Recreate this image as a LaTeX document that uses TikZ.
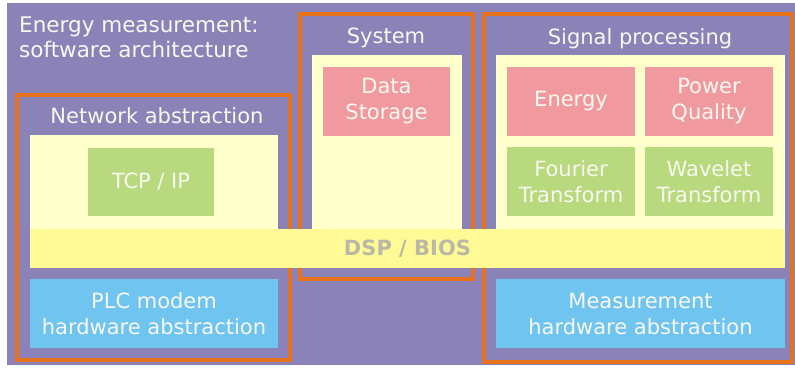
\documentclass[tikz,border=0pt]{standalone}
\usepackage{fontspec}
\setmainfont{DejaVu Sans}
\usetikzlibrary{positioning}
\definecolor{bgpurple}{RGB}{139,131,184}
\definecolor{frameorange}{RGB}{230,114,30}
\definecolor{paneyellow}{RGB}{255,255,204}
\definecolor{bandyellow}{RGB}{255,250,150}
\definecolor{blockpink}{RGB}{240,154,160}
\definecolor{blockgreen}{RGB}{185,217,126}
\definecolor{blockblue}{RGB}{112,196,240}
\definecolor{labelwhite}{RGB}{248,248,240}
\definecolor{biosgrey}{RGB}{185,185,165}
\tikzset{
	box/.style={rectangle, inner sep=0pt, outer sep=0pt, anchor=north west},
	frame/.style={box, draw=frameorange, line width=4pt},
	pane/.style={box, fill=paneyellow},
	block/.style={box, text=labelwhite, align=center, font=\fontsize{21}{26}\selectfont},
	heading/.style={inner sep=0pt, text=labelwhite, font=\fontsize{21}{25}\selectfont},
}

\begin{document}
\begin{tikzpicture}[x=1pt,y=-1pt]
	\fill[white] (0,0) rectangle (795,368);
	\useasboundingbox (0,0) rectangle (795,368);
	\node [box, fill=bgpurple, minimum width=788pt, minimum height=362pt] (bg) at (7,3) {};
	\node [heading, anchor=north west, align=left, font=\fontsize{21.5}{25}\selectfont] (title) at (19,17) {Energy measurement:\\software architecture};
	
	\node [frame, minimum width=273pt, minimum height=265pt] (net) at (17,95) {};
	\node [frame, minimum width=173pt, minimum height=265pt] (sys) at (300,14) {};
	\node [frame, minimum width=308pt, minimum height=348pt] (sig) at (484,14) {};
	\node [heading, anchor=base] (netT) at (157,123) {Network abstraction};
	\node [heading, anchor=base] (sysT) at (386,43) {System};
	\node [heading, anchor=base] (sigT) at (640,44) {Signal processing};
	
	\node [pane, minimum width=248pt, minimum height=95pt] (netP) at (30,135) {};
	\node [pane, minimum width=150pt, minimum height=175pt] (sysP) at (312,55) {};
	\node [pane, minimum width=289pt, minimum height=175pt] (sigP) at (496,55) {};
	
	\node [block, fill=blockgreen, minimum width=126pt, minimum height=68pt] (tcp) at (88,148) {TCP / IP};
	\node [block, fill=blockpink, minimum width=127pt, minimum height=69pt] (store) at (323,67) {Data\\Storage};
	\node [block, fill=blockpink, minimum width=128pt, minimum height=69pt] (energy) at (507,67) {Energy};
	\node [block, fill=blockpink, minimum width=128pt, minimum height=69pt, right=10pt of energy] (power) {Power\\Quality};
	\node [block, fill=blockgreen, minimum width=128pt, minimum height=69pt, below=11pt of energy] (fourier) {Fourier\\Transform};
	\node [block, fill=blockgreen, minimum width=128pt, minimum height=69pt, below=11pt of power] (wavelet) {Wavelet\\Transform};
	
	\node [box, fill=bandyellow, minimum width=755pt, minimum height=39pt, text=biosgrey, font=\fontsize{21}{25}\selectfont\bfseries] (bios) at (30,229) {DSP / BIOS};
	
	\node [block, fill=blockblue, minimum width=248pt, minimum height=69pt] (plc) at (30,279) {PLC modem\\hardware abstraction};
	\node [block, fill=blockblue, minimum width=289pt, minimum height=69pt] (meas) at (496,279) {Measurement\\hardware abstraction};
\end{tikzpicture}
\end{document}
